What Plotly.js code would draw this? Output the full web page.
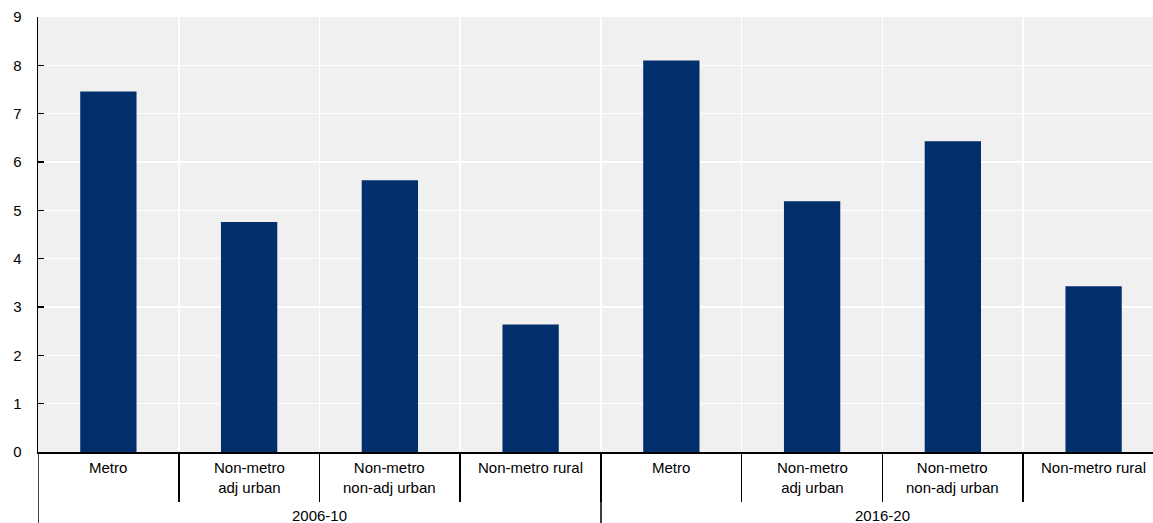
<!DOCTYPE html>
<html>
<head>
<meta charset="utf-8">
<script src="https://cdn.plot.ly/plotly-3.0.1.min.js"></script>
<style>html,body{margin:0;padding:0;background:#fff;}#chart{width:1153px;height:523px;}</style>
</head>
<body>
<div id="chart"></div>
<script>
// Data
var periods = ["2006-10", "2016-20"];
var categories = ["Metro", "Non-metro<br>adj urban", "Non-metro<br>non-adj urban", "Non-metro rural"];
var values2006 = [7.46, 4.76, 5.62, 2.64];
var values2016 = [8.10, 5.19, 6.43, 3.43];
var yTicks = [0, 1, 2, 3, 4, 5, 6, 7, 8, 9];

var labels = [];
var vals = [];
var xs = [];
[values2006, values2016].forEach(function (arr, g) {
  arr.forEach(function (v, i) {
    xs.push(g * categories.length + i);
    vals.push(v);
    labels.push(categories[i]);
  });
});

var n = xs.length;
var boundaries = [];
for (var b = 0; b < n - 1; b++) boundaries.push(b + 0.5);

var font = "'Liberation Sans', Arial, sans-serif";

var annotations = [];
xs.forEach(function (x, k) {
  annotations.push({
    x: x, xref: 'x', y: 0, yref: 'paper', yanchor: 'top', xanchor: 'center',
    yshift: -5, text: labels[k], showarrow: false,
    font: {family: font, size: 15, color: '#000'}
  });
});
periods.forEach(function (p, g) {
  annotations.push({
    x: g * categories.length + (categories.length - 1) / 2, xref: 'x',
    y: 0, yref: 'paper', yanchor: 'middle', xanchor: 'center', yshift: -63,
    text: p, showarrow: false, font: {family: font, size: 15, color: '#000'}
  });
});

var shapes = [];
periods.forEach(function (p, g) {
  shapes.push({
    type: 'line', xref: 'x', yref: 'paper',
    x0: g * categories.length - 0.5, x1: g * categories.length - 0.5,
    y0: 0, y1: -0.2, line: {color: '#000', width: 1.5}, layer: 'above'
  });
});

var trace = {
  type: 'bar', x: xs, y: vals, width: 0.4,
  marker: {color: '#002F6C', line: {width: 0}},
  hoverinfo: 'skip'
};

var layout = {
  width: 1153, height: 523,
  margin: {l: 38, r: 0, t: 17, b: 71, pad: 0},
  paper_bgcolor: '#ffffff', plot_bgcolor: '#f0f0f0',
  showlegend: false,
  font: {family: font, size: 15, color: '#000'},
  xaxis: {
    range: [-0.5, 7.422], tickmode: 'array', tickvals: boundaries,
    showticklabels: false, ticks: 'outside', ticklen: 48, tickwidth: 1.5, tickcolor: '#000',
    showgrid: true, gridcolor: '#ffffff', gridwidth: 1.5,
    showline: true, linecolor: '#000', linewidth: 1.5, zeroline: false, fixedrange: true
  },
  yaxis: {
    range: [0, 9], tickmode: 'array', tickvals: yTicks,
    ticks: 'inside', ticklen: 6, tickwidth: 1.5, tickcolor: '#000',
    ticklabelstandoff: 12,
    showgrid: true, gridcolor: '#ffffff', gridwidth: 1.5,
    showline: true, linecolor: '#000', linewidth: 1.5, zeroline: false,
    tickfont: {family: font, size: 15, color: '#000'}, fixedrange: true
  },
  annotations: annotations,
  shapes: shapes
};

Plotly.newPlot('chart', [trace], layout, {displayModeBar: false, staticPlot: true});
</script>
</body>
</html>
